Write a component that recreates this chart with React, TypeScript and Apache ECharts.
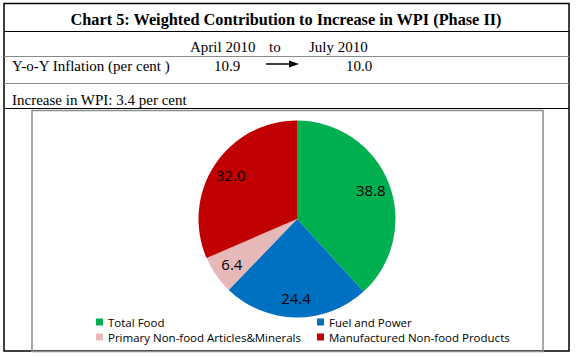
import React, { useEffect, useRef } from "react";
import * as echarts from "echarts";

const categories = [
  "Total Food",
  "Fuel and Power",
  "Primary Non-food Articles&Minerals",
  "Manufactured Non-food Products",
];
const shares = [38.8, 24.4, 6.4, 32.0];
const colors = ["#00B050", "#0070C0", "#E6B9B8", "#C00000"];

const titleText = "Chart 5: Weighted Contribution to Increase in WPI (Phase II)";
const periodLabels = ["April 2010", "to", "July 2010"];
const inflationLabel = "Y-o-Y Inflation (per cent )";
const inflationValues = ["10.9", "10.0"];
const increaseText = "Increase in WPI: 3.4 per cent";

const serif = "'Liberation Serif', 'Times New Roman', serif";
const sans = "'Open Sans', 'Noto Sans', sans-serif";

export default function App() {
  const ref = useRef<HTMLDivElement>(null);

  useEffect(() => {
    if (!ref.current) return;
    const chart = echarts.init(ref.current, null, { renderer: "svg" });

    const pieData = categories.map((name, i) => ({
      name,
      value: shares[i],
      itemStyle: { color: colors[i] },
    }));
    const labelData = categories.map((name, i) => ({
      name,
      value: shares[i],
    }));

    const legendItem = (i: number) => ({
      name: categories[i],
      itemStyle: { color: colors[i] },
    });

    const textStyle = (size: number, bold = false) => ({
      fontFamily: serif,
      fontSize: size,
      fontWeight: bold ? "bold" : "normal",
      fill: "#000",
    });

    const legendBase = {
      orient: "vertical",
      top: 316,
      padding: 0,
      icon: "rect",
      itemWidth: 7,
      itemHeight: 7,
      itemGap: 3,
      selectedMode: false,
      textStyle: { fontFamily: sans, fontSize: 11.5, color: "#000", lineHeight: 12 },
    };

    chart.setOption({
      animation: false,
      backgroundColor: "#ffffff",
      legend: [
        { ...legendBase, left: 96, data: [legendItem(0), legendItem(2)] },
        { ...legendBase, left: 317, data: [legendItem(1), legendItem(3)] },
      ],
      series: [
        {
          type: "pie",
          center: [297, 219],
          radius: [0, 98.5],
          startAngle: 90,
          clockwise: true,
          silent: true,
          label: { show: false },
          labelLine: { show: false },
          itemStyle: { borderWidth: 0 },
          data: pieData,
        },
        {
          type: "pie",
          center: [297, 219],
          radius: [54, 98.5],
          startAngle: 90,
          clockwise: true,
          silent: true,
          itemStyle: { color: "transparent", borderWidth: 0 },
          label: {
            show: true,
            position: "inside",
            fontFamily: sans,
            fontSize: 15,
            color: "#000",
            formatter: (p: any) => Number(p.value).toFixed(1),
          },
          labelLine: { show: false },
          data: labelData,
        },
      ],
      graphic: [
        {
          type: "rect",
          silent: true,
          shape: { x: 4, y: 3.5, width: 565, height: 347.5 },
          style: { fill: "none", stroke: "#000", lineWidth: 1.5 },
        },
        {
          type: "line",
          silent: true,
          shape: { x1: 4, y1: 31.5, x2: 569, y2: 31.5 },
          style: { stroke: "#000", lineWidth: 1 },
        },
        {
          type: "line",
          silent: true,
          shape: { x1: 4, y1: 56.5, x2: 569, y2: 56.5 },
          style: { stroke: "#8a8a8a", lineWidth: 1 },
        },
        {
          type: "line",
          silent: true,
          shape: { x1: 4, y1: 83.5, x2: 569, y2: 83.5 },
          style: { stroke: "#8a8a8a", lineWidth: 1 },
        },
        {
          type: "line",
          silent: true,
          shape: { x1: 4, y1: 108.5, x2: 569, y2: 108.5 },
          style: { stroke: "#000", lineWidth: 1 },
        },
        {
          type: "rect",
          silent: true,
          shape: { x: 32, y: 110.5, width: 511, height: 241 },
          style: { fill: "none", stroke: "#8c8c8c", lineWidth: 1.5 },
        },
        {
          type: "text",
          silent: true,
          x: 286,
          y: 19,
          style: {
            text: titleText,
            ...textStyle(16.3, true),
            align: "center",
            verticalAlign: "middle",
          },
        },
        {
          type: "text",
          silent: true,
          x: 190,
          y: 47,
          style: { text: periodLabels[0], ...textStyle(15), verticalAlign: "middle" },
        },
        {
          type: "text",
          silent: true,
          x: 269,
          y: 47,
          style: { text: periodLabels[1], ...textStyle(15), verticalAlign: "middle" },
        },
        {
          type: "text",
          silent: true,
          x: 309,
          y: 47,
          style: { text: periodLabels[2], ...textStyle(15), verticalAlign: "middle" },
        },
        {
          type: "text",
          silent: true,
          x: 12,
          y: 66,
          style: { text: inflationLabel, ...textStyle(15), verticalAlign: "middle" },
        },
        {
          type: "text",
          silent: true,
          x: 214,
          y: 66,
          style: { text: inflationValues[0], ...textStyle(15), verticalAlign: "middle" },
        },
        {
          type: "text",
          silent: true,
          x: 346,
          y: 66,
          style: { text: inflationValues[1], ...textStyle(15), verticalAlign: "middle" },
        },
        {
          type: "line",
          silent: true,
          shape: { x1: 266, y1: 64, x2: 292, y2: 64 },
          style: { stroke: "#000", lineWidth: 1.5 },
        },
        {
          type: "polygon",
          silent: true,
          shape: { points: [[289, 60.5], [299, 64], [289, 67.5]] },
          style: { fill: "#000" },
        },
        {
          type: "text",
          silent: true,
          x: 12,
          y: 100,
          style: { text: increaseText, ...textStyle(15), verticalAlign: "middle" },
        },
      ],
    });

    return () => chart.dispose();
  }, []);

  return (
    <div
      ref={ref}
      style={{ position: "fixed", left: 0, top: 0, width: 576, height: 358, background: "#fff" }}
    />
  );
}
